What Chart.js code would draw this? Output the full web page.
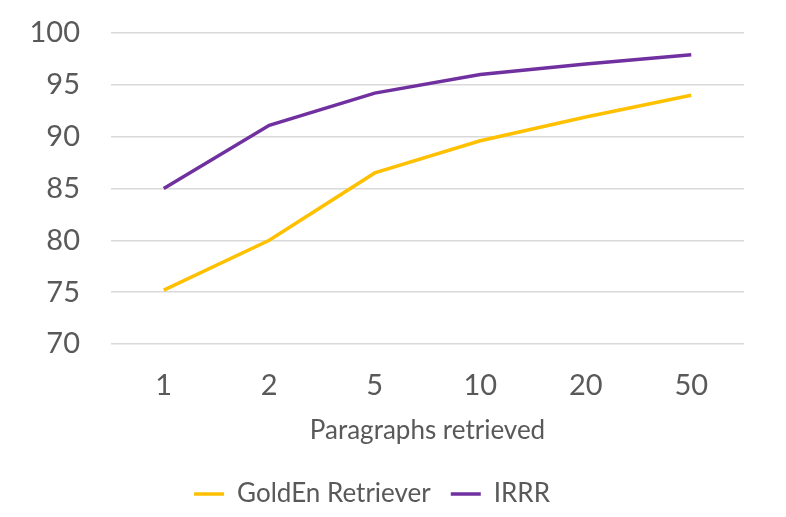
<!DOCTYPE html>
<html>
<head>
<meta charset="utf-8">
<script src="https://cdn.jsdelivr.net/npm/chart.js@4"></script>
<style>
  html, body { margin: 0; padding: 0; background: #fff; }
  #wrap { width: 786px; height: 517px; }
</style>
</head>
<body>
<div id="wrap"><canvas id="chart" width="786" height="517"></canvas></div>
<script>
// ─── Data ───
const categories = ['1', '2', '5', '10', '20', '50'];
const golden = [75.2, 80, 86.5, 89.6, 91.9, 94];
const irrr   = [85, 91.1, 94.2, 96, 97, 97.9];
const yTicks = [70, 75, 80, 85, 90, 95, 100];

const GOLD = '#FFC000';
const PURPLE = '#7030A0';
const TEXT = '#595959';
const FONT = 'Lato, "Open Sans", sans-serif';
const FS = 29;   // tick labels
const FS2 = 26;  // axis title + legend

Chart.defaults.font.family = FONT;
Chart.defaults.color = TEXT;

new Chart(document.getElementById('chart'), {
  type: 'line',
  data: {
    labels: categories,
    datasets: [
      { label: 'GoldEn Retriever', data: golden, borderColor: GOLD, backgroundColor: GOLD,
        borderWidth: 3.5, pointRadius: 0, tension: 0, pointStyle: 'line' },
      { label: 'IRRR', data: irrr, borderColor: PURPLE, backgroundColor: PURPLE,
        borderWidth: 3.5, pointRadius: 0, tension: 0, pointStyle: 'line' },
    ],
  },
  options: {
    responsive: false,
    animation: false,
    layout: { padding: { top: 33, right: 42, bottom: 0, left: 0 } },
    plugins: {
      legend: {
        position: 'bottom',
        labels: { usePointStyle: true, pointStyleWidth: 30, font: { size: FS2 }, color: TEXT, padding: 20 },
      },
      tooltip: { enabled: false },
    },
    scales: {
      x: {
        offset: true,
        grid: { display: false },
        border: { display: false },
        ticks: { font: { size: FS }, color: TEXT, padding: 16 },
        title: { display: true, text: 'Paragraphs retrieved', font: { size: FS2 }, color: TEXT, padding: { top: -4, bottom: 15 } },
      },
      y: {
        min: 70, max: 100,
        afterBuildTicks: axis => { axis.ticks = yTicks.map(v => ({ value: v })); },
        afterFit: axis => { axis.width = 111; axis.paddingTop = 0; axis.paddingBottom = 0; },
        grid: { color: '#d9d9d9', lineWidth: 1.5, drawTicks: false },
        border: { display: false },
        ticks: { font: { size: FS }, color: TEXT, padding: 31 },
      },
    },
  },
});
</script>
</body>
</html>
